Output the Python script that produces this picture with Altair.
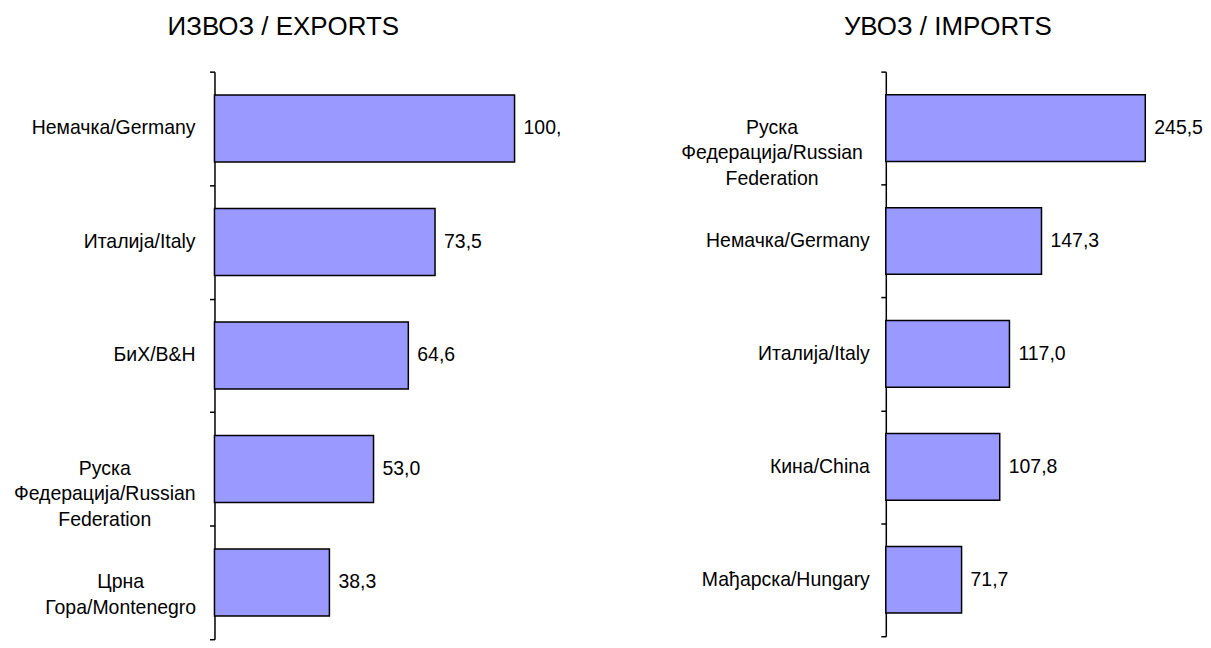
import altair as alt
import pandas as pd

FONT = "Liberation Sans"

exp_title = "ИЗВОЗ / EXPORTS"
exp_countries = ["Немачка/Germany", "Италија/Italy", "БиХ/B&H",
                 "Руска|Федерација/Russian|Federation", "Црна|Гора/Montenegro"]
exp_values = [100.0, 73.5, 64.6, 53.0, 38.3]
exp_labels = ["100,", "73,5", "64,6", "53,0", "38,3"]

imp_title = "УВОЗ / IMPORTS"
imp_countries = ["Руска|Федерација/Russian|Federation", "Немачка/Germany",
                 "Италија/Italy", "Кина/China", "Мађарска/Hungary"]
imp_values = [245.5, 147.3, 117.0, 107.8, 71.7]
imp_labels = ["245,5", "147,3", "117,0", "107,8", "71,7"]


def panel(title, countries, values, labels, xmax, width, height, title_dx,
          title_offset, base_dx, multi_dx):
    df = pd.DataFrame({"country": countries, "value": values, "label": labels})
    # per-label horizontal offset of the category text (styling only)
    dx_expr = ""
    for name, d in multi_dx:
        dx_expr += "datum.country == '%s' ? %d : " % (name, d)
    dx_expr += str(base_dx)
    align_expr = "indexof(datum.country, '|') >= 0 ? 'center' : 'right'"

    axis = alt.Axis(
        title=None,
        tickBand="extent",
        labels=False,
        domainColor="black",
        domainWidth=1.5,
        tickColor="black",
        tickWidth=1.5,
        tickSize=5,
        grid=False,
    )
    y = alt.Y("country:N", sort=countries, axis=axis,
              scale=alt.Scale(paddingInner=0, paddingOuter=0))
    x = alt.X("value:Q", scale=alt.Scale(domain=[0, xmax]), axis=None)
    base = alt.Chart(df)
    bars = base.mark_bar(
        height=alt.RelativeBandSize(0.59),
        color="#9999FF",
        stroke="black",
        strokeWidth=1.5,
    ).encode(x=x, y=y)
    values_text = base.mark_text(
        align="left", baseline="middle", dx=9, font=FONT, fontSize=19.5, color="black"
    ).encode(x=x, y=alt.Y("country:N", sort=countries), text="label:N")
    cat_text = base.transform_calculate(
        lines="split(datum.country, '|')"
    ).mark_text(
        align=alt.expr(align_expr),
        dx=alt.expr(dx_expr),
        baseline="middle",
        font=FONT,
        fontSize=19.5,
        lineHeight=25.5,
        color="black",
    ).encode(
        x=alt.value(0),
        y=alt.Y("country:N", sort=countries),
        text="lines:N",
    )
    return alt.layer(bars, values_text, cat_text).properties(
        width=width,
        height=height,
        title=alt.TitleParams(
            title, anchor="start", frame="group", dx=title_dx, font=FONT,
            fontSize=26, fontWeight="normal", color="black", offset=title_offset,
        ),
    )


left = panel(exp_title, exp_countries, exp_values, exp_labels, 120, 361, 569, -47, 31,
             -19, [("Руска|Федерација/Russian|Federation", -110),
                   ("Црна|Гора/Montenegro", -94)])
right = panel(imp_title, imp_countries, imp_values, imp_labels, 260, 275.5, 566, -42, 31,
              -16, [("Руска|Федерација/Russian|Federation", -114)])

chart = alt.hconcat(left, right, spacing=312, bounds="flush").properties(
    padding={"left": 5, "top": 5, "right": 0, "bottom": 0}
).configure_view(stroke=None)

chart.save("out.html", embed_options={"renderer": "svg", "actions": False})
